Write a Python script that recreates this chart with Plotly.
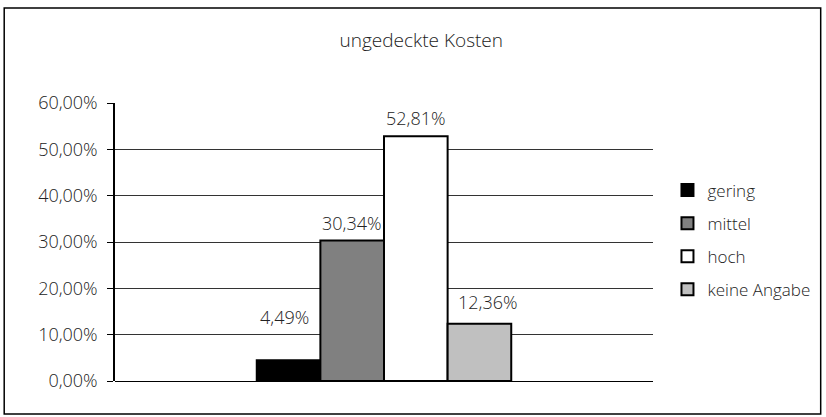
import plotly.graph_objects as go

# Data
category = ["ungedeckte Kosten"]
series_names = ["gering", "mittel", "hoch", "keine Angabe"]
series_values = [4.49, 30.34, 52.81, 12.36]
series_colors = ["#000000", "#808080", "#ffffff", "#c0c0c0"]

tick_vals = [0, 10, 20, 30, 40, 50, 60]
tick_text = ["0,00%", "10,00%", "20,00%", "30,00%", "40,00%", "50,00%", "60,00%"]

# how far each value label sits above/aside its bar (pixels), as in the original
label_gap_px = [37, 11, 12, 16]
label_xshift_px = [-4, 0, 0, 9]

FONT = "Open Sans, Lato, sans-serif"
TEXT_COLOR = "#222222"
BARGAP = 0.527

fig = go.Figure()
for name, val, col in zip(series_names, series_values, series_colors):
    fig.add_trace(go.Bar(
        x=category,
        y=[val],
        name=name,
        legendgroup=name,
        marker=dict(color=col, line=dict(color="#000000", width=2)),
        hoverinfo="name+y",
    ))

# value labels placed above each bar of the group
group_w = 1 - BARGAP
bar_w = group_w / len(series_values)
annotations = []
for i, val in enumerate(series_values):
    annotations.append(dict(
        x=-group_w / 2 + bar_w * (i + 0.5), xref="x",
        y=val, yref="y",
        text=f"{val:.2f}%".replace(".", ","),
        showarrow=False, yanchor="bottom", xanchor="center",
        yshift=label_gap_px[i] - 8, xshift=label_xshift_px[i],
        font=dict(size=18, color=TEXT_COLOR, weight=300),
    ))

fig.update_layout(
    width=826,
    height=417,
    separators=",.",
    paper_bgcolor="white",
    plot_bgcolor="white",
    font=dict(family=FONT, size=17, color=TEXT_COLOR, weight=300),
    margin=dict(l=115, r=172, t=103, b=36),
    barmode="group",
    bargap=BARGAP,
    bargroupgap=0,
    title=dict(text="ungedeckte Kosten", x=0.51, xanchor="center",
               y=1 - 40 / 417, yanchor="middle",
               font=dict(size=19, color=TEXT_COLOR, weight=300)),
    xaxis=dict(showticklabels=False, showgrid=False, zeroline=False,
               showline=False, ticks=""),
    yaxis=dict(range=[0, 60], tickvals=tick_vals, ticktext=tick_text,
               tickfont=dict(size=18),
               showgrid=True, gridcolor="#333333", gridwidth=1,
               showline=True, linecolor="#000000", linewidth=1.5,
               ticks="outside", ticklen=6, tickcolor="#000000",
               zeroline=True, zerolinecolor="#000000", zerolinewidth=1,
               ticklabelstandoff=6),
    legend=dict(x=1.025, y=0.75, xanchor="left", yanchor="top",
                traceorder="grouped", tracegroupgap=8,
                font=dict(size=17, color=TEXT_COLOR, weight=300),
                itemwidth=30),
    showlegend=True,
    annotations=annotations,
    shapes=[dict(type="rect", xref="paper", yref="paper",
                 x0=(4 - 115) / 539, x1=(822 - 115) / 539,
                 y0=(381 - 414) / 278, y1=(381 - 8) / 278,
                 line=dict(color="#000000", width=1.5),
                 fillcolor="rgba(0,0,0,0)", layer="below")],
)

# the page body has a default 8px margin; remove it so the figure fills the window
fig.write_html("out.html", config={"displayModeBar": False},
               post_script="document.body.style.margin='0';")
